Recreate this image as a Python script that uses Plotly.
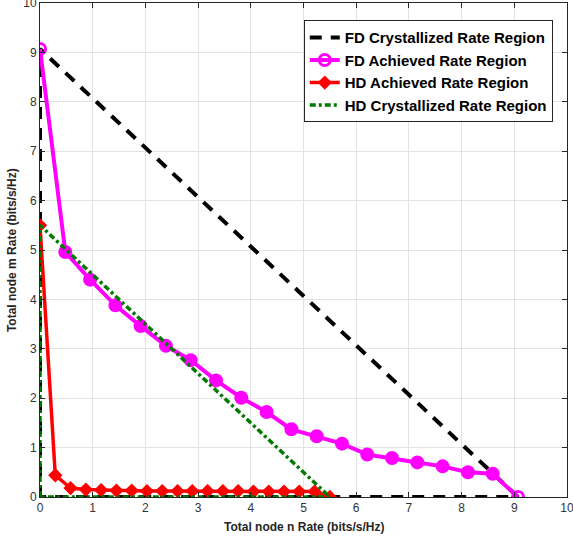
import plotly.graph_objects as go

# FD crystallized rate region (triangle)
fd_cryst_x = [0, 0, 9.07, 0]
fd_cryst_y = [0, 9.07, 0, 0]

# HD crystallized rate region (triangle)
hd_cryst_x = [0, 0, 5.5, 0]
hd_cryst_y = [0, 5.5, 0, 0]

# FD achieved rate region
fd_ach_x = [0, 0.48, 0.95, 1.43, 1.91, 2.39, 2.86, 3.34, 3.82, 4.30,
            4.77, 5.25, 5.73, 6.21, 6.68, 7.16, 7.64, 8.12, 8.59, 9.07]
fd_ach_y = [9.07, 4.96, 4.40, 3.88, 3.46, 3.06, 2.77, 2.36, 2.01, 1.72,
            1.37, 1.23, 1.08, 0.86, 0.79, 0.70, 0.62, 0.50, 0.47, 0.0]

# HD achieved rate region
hd_ach_x = [0, 0.29, 0.58, 0.87, 1.16, 1.45, 1.74, 2.03, 2.32, 2.61,
            2.89, 3.18, 3.47, 3.76, 4.05, 4.34, 4.63, 4.92, 5.21, 5.5]
hd_ach_y = [5.5, 0.44, 0.18, 0.15, 0.14, 0.13, 0.13, 0.12, 0.12, 0.12,
            0.12, 0.12, 0.12, 0.12, 0.11, 0.11, 0.11, 0.11, 0.11, 0.0]

x_ticks = list(range(0, 11))
y_ticks = list(range(0, 11))

font_family = "Arial, Liberation Sans, sans-serif"

fig = go.Figure()
fig.add_trace(go.Scatter(
    x=fd_cryst_x, y=fd_cryst_y, mode="lines",
    name="<b>FD Crystallized Rate Region</b>",
    line=dict(color="black", width=4, dash="12px,9px"),
))
n_fd = len(fd_ach_x)
fd_symbols = ["circle-open" if i in (0, n_fd - 1) else "circle" for i in range(n_fd)]
fig.add_trace(go.Scatter(
    x=fd_ach_x, y=fd_ach_y, mode="lines+markers",
    name="<b>FD Achieved Rate Region</b>",
    line=dict(color="#ff00ff", width=4),
    marker=dict(color="#ff00ff", size=11, symbol=fd_symbols,
                line=dict(color="#ff00ff", width=3)),
))
fig.add_trace(go.Scatter(
    x=hd_ach_x, y=hd_ach_y, mode="lines+markers",
    name="<b>HD Achieved Rate Region</b>",
    line=dict(color="#ff0000", width=3.5),
    marker=dict(color="#ff0000", size=11, symbol="diamond"),
))
fig.add_trace(go.Scatter(
    x=hd_cryst_x, y=hd_cryst_y, mode="lines",
    name="<b>HD Crystallized Rate Region</b>",
    line=dict(color="#007a00", width=3.5, dash="6px,3px,3px,3px"),
))

axis_common = dict(
    range=[0, 10], showgrid=True, gridcolor="#e3e3e3", gridwidth=1,
    showline=True, linecolor="#262626", linewidth=1, mirror="ticks",
    ticks="inside", ticklen=5, tickcolor="#262626", zeroline=False,
    automargin=False, ticklabeloverflow="allow",
    tickfont=dict(family=font_family, size=12, color="#333333"),
)

title_font = dict(family=font_family, size=12, color="#262626")

fig.update_layout(
    width=573, height=544,
    margin=dict(l=40, r=6, t=3, b=47),
    paper_bgcolor="white", plot_bgcolor="white",
    font=dict(family=font_family),
    xaxis=dict(**axis_common, tickvals=x_ticks),
    yaxis=dict(**axis_common, tickvals=y_ticks),
    legend=dict(x=0.973, y=0.965, xanchor="right", yanchor="top",
                bgcolor="white", bordercolor="#262626", borderwidth=1,
                font=dict(family=font_family, size=15, color="black"),
                tracegroupgap=0),
    showlegend=True,
    annotations=[
        dict(text="<b>Total node m Rate (bits/s/Hz)</b>",
             xref="paper", yref="paper", x=-0.053, y=0.5,
             xanchor="center", yanchor="middle", textangle=-90,
             showarrow=False, font=title_font),
        dict(text="<b>Total node n Rate (bits/s/Hz)</b>",
             xref="paper", yref="paper", x=0.5, y=-0.061,
             xanchor="center", yanchor="middle",
             showarrow=False, font=title_font),
    ],
)

fig.write_html("out.html", config={"displayModeBar": False},
               post_script="document.body.style.margin='0';document.body.style.overflow='hidden';")
